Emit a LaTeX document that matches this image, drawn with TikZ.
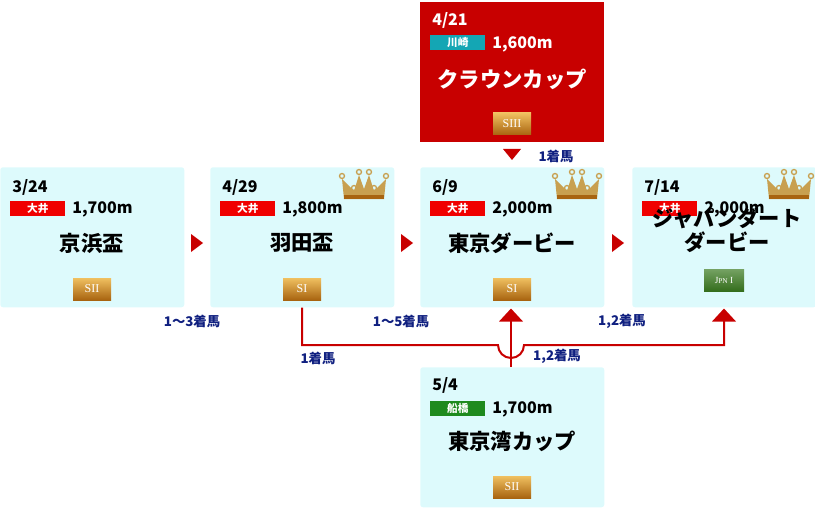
\documentclass[tikz,border=0pt]{standalone}
\usepackage{fontspec}
\setmainfont{Noto Sans CJK JP}
\newfontfamily\badgefont{Liberation Serif}
\usetikzlibrary{positioning}
\usetikzlibrary{calc}
\definecolor{boxcyan}{HTML}{DDFAFC}
\definecolor{racered}{HTML}{C80000}
\definecolor{tagred}{HTML}{F00000}
\definecolor{tagteal}{HTML}{14A6B4}
\definecolor{taggreen}{HTML}{1E8A1E}
\definecolor{labelblue}{HTML}{102080}
\definecolor{goldlight}{HTML}{F0C060}
\definecolor{golddark}{HTML}{A86410}
\definecolor{crowngold}{HTML}{C8A050}
\definecolor{jpngreen}{HTML}{3A7A20}
\tikzset{race box/.style={fill=boxcyan,rounded corners=2pt,minimum width=184*0.75pt,
                          minimum height=140*0.75pt,anchor=north west,inner sep=0pt}}
\tikzset{venue tag/.style={fill=tagred,text=white,font=\bfseries\fontsize{8}{8}\selectfont,
                           minimum width=55*0.75pt,minimum height=15*0.75pt,inner sep=0pt,anchor=west}}
\tikzset{grade badge/.style={top color=goldlight,bottom color=golddark,text=white,
                             font=\badgefont\fontsize{9}{9}\selectfont,
                             minimum width=38*0.75pt,minimum height=22*0.75pt,inner sep=0pt}}
\tikzset{flow/.style={draw=racered,line width=1.5pt}}
\tikzset{cond label/.style={text=labelblue,font=\bfseries\fontsize{10}{10}\selectfont,inner sep=0pt}}
\newcommand{\crownat}[1]{%
  \begin{scope}[shift={(#1)}]
    \fill[crowngold] (-20,14) -- (-22,-6) -- (-10,6) -- (-5,-10) -- (0,4) -- (5,-10) -- (10,6) -- (22,-6) -- (20,14) -- cycle;
    \foreach \cx/\cy in {-22/-6,-10/6,-5/-10,5/-10,10/6,22/-6}
      \draw[crowngold,line width=1pt] (\cx,\cy-3) circle (2.5);
    \fill[golddark] (-20,10) rectangle (20,14);
  \end{scope}}
\begin{document}
\begin{tikzpicture}[x=0.75pt,y=-0.75pt]
  \useasboundingbox (0,0) rectangle (815,510);

  % boxes
  \node[race box] (keihin) at (0,167) {};
  \node[race box] (haneda) at (210,167) {};
  \node[race box] (derby) at (420,167) {};
  \node[race box] (jdd) at (632,167) {};
  \node[race box,fill=racered,rounded corners=0pt] (crown) at (420,2) {};
  \node[race box] (wangan) at (420,367) {};

  % box contents
  \foreach \rb/\d/\v/\m/\g in {keihin/3\slash24/大井/{1,700m}/SII,haneda/4\slash29/大井/{1,800m}/SI,derby/6\slash9/大井/{2,000m}/SI}
  {
    \node[anchor=west,font=\bfseries\fontsize{12}{12}\selectfont,inner sep=0pt] at ($(\rb.north west)+(12,20)$) {\d};
    \node[venue tag] at ($(\rb.north west)+(10,41)$) {\v};
    \node[anchor=west,font=\bfseries\fontsize{12}{12}\selectfont,inner sep=0pt] at ($(\rb.north west)+(72,42)$) {\m};
    \node[grade badge] at ($(\rb.north west)+(92,122)$) {\g};
  }
  \node[font=\bfseries\fontsize{16}{16}\selectfont] at ($(keihin.north west)+(92,76)$) {京浜盃};
  \node[font=\bfseries\fontsize{16}{16}\selectfont] at ($(haneda.north west)+(92,76)$) {羽田盃};
  \node[font=\bfseries\fontsize{16}{16}\selectfont] at ($(derby.north west)+(92,76)$) {東京ダービー};

  \node[anchor=west,font=\bfseries\fontsize{12}{12}\selectfont,inner sep=0pt] at ($(jdd.north west)+(12,20)$) {7/14};
  \node[venue tag] (jdd tag) at ($(jdd.north west)+(10,41)$) {大井};
  \node[anchor=west,font=\bfseries\fontsize{12}{12}\selectfont,inner sep=0pt] at ($(jdd.north west)+(72,42)$) {2,000m};
  \node[font=\bfseries\fontsize{16}{18}\selectfont,align=center,inner sep=0pt] at ($(jdd.north west)+(95,63)$) {ジャパンダート\\ダービー};
  \node[grade badge,top color=jpngreen!70,bottom color=jpngreen!90!black,font=\badgefont\fontsize{7}{7}\selectfont,minimum width=40*0.75pt] (jdd badge) at ($(jdd.north west)+(92,113)$) {J{\fontsize{5.5}{5.5}\selectfont PN} I};

  \node[anchor=west,text=white,font=\bfseries\fontsize{12}{12}\selectfont,inner sep=0pt] at ($(crown.north west)+(12,18)$) {4/21};
  \node[venue tag,fill=tagteal] (crown tag) at ($(crown.north west)+(10,41)$) {川崎};
  \node[anchor=west,text=white,font=\bfseries\fontsize{12}{12}\selectfont,inner sep=0pt] at ($(crown.north west)+(72,42)$) {1,600m};
  \node[text=white,font=\bfseries\fontsize{16}{16}\selectfont] at ($(crown.north west)+(92,77)$) {クラウンカップ};
  \node[grade badge] (crown badge) at ($(crown.north west)+(92,122)$) {SIII};

  \node[anchor=west,font=\bfseries\fontsize{12}{12}\selectfont,inner sep=0pt] at ($(wangan.north west)+(12,18)$) {5/4};
  \node[venue tag,fill=taggreen] (wangan tag) at ($(wangan.north west)+(10,41)$) {船橋};
  \node[anchor=west,font=\bfseries\fontsize{12}{12}\selectfont,inner sep=0pt] at ($(wangan.north west)+(72,42)$) {1,700m};
  \node[font=\bfseries\fontsize{16}{16}\selectfont] at ($(wangan.north west)+(92,74)$) {東京湾カップ};
  \node[grade badge] (wangan badge) at ($(wangan.north west)+(92,120)$) {SII};

  % crowns
  \crownat{$(haneda.north west)+(154,18)$}
  \crownat{$(derby.north west)+(157,18)$}
  \crownat{$(jdd.north west)+(157,18)$}

  % step triangles
  \foreach \x in {197,407,618}
    \fill[racered] (\x-6,234) -- (\x+6,243) -- (\x-6,252) -- cycle;
  \fill[racered] (503,149) -- (521,149) -- (512,160) -- cycle;

  % connectors
  \coordinate (join) at (511,345);
  \coordinate (haneda out) at ($(haneda.south west)+(92,0)$);
  \coordinate (jdd in) at ($(jdd badge.south |- jdd.south)+(0,12)$);
  \coordinate (derby in) at ($(derby.south -| join)+(0,12)$);
  \draw[flow] (haneda out) -- (haneda out |- join) -- ($(join)+(-13,0)$)
              arc (180:0:13) -- (jdd in |- join) -- (jdd in);
  \draw[flow] (wangan.north -| join) -- (derby in);
  \fill[racered] ($(derby in)+(-12,2)$) -- ($(derby in)+(0,-11)$) -- ($(derby in)+(12,2)$) -- cycle;
  \fill[racered] ($(jdd in)+(-12,2)$) -- ($(jdd in)+(0,-11)$) -- ($(jdd in)+(12,2)$) -- cycle;

  % labels
  \node[cond label] at (192,321) {1～3着馬};
  \node[cond label] at (401,321) {1～5着馬};
  \node[cond label] at (318,358) {1着馬};
  \node[cond label] at (557,356) {1,2着馬};
  \node[cond label] at (622,321) {1,2着馬};
  \node[cond label] at (556,156) {1着馬};
\end{tikzpicture}
\end{document}
